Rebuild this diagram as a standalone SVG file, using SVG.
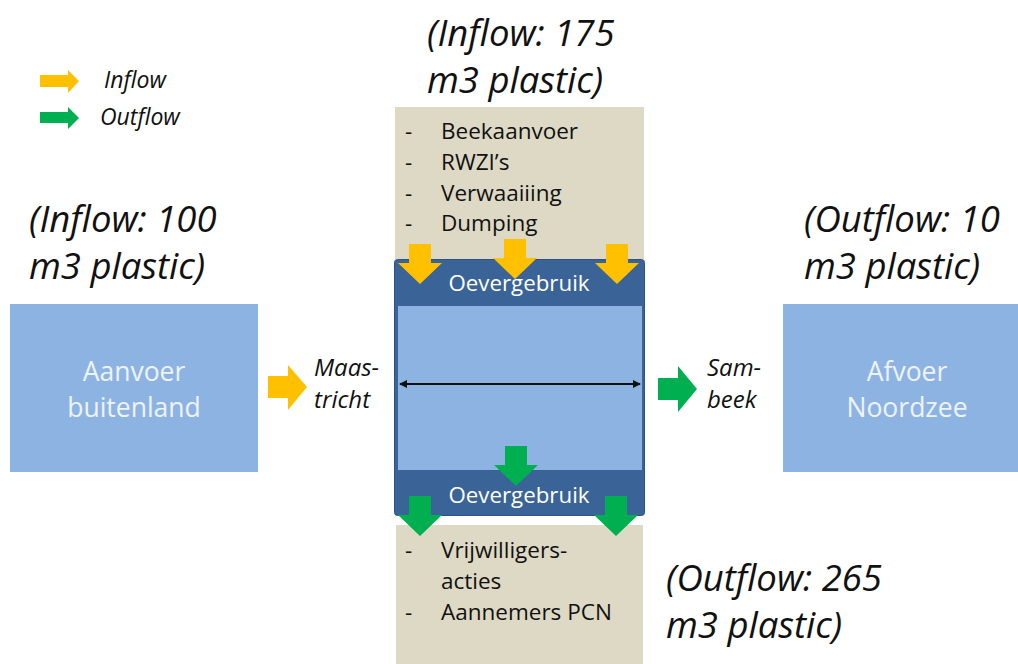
<svg xmlns="http://www.w3.org/2000/svg" width="1018" height="664" viewBox="0 0 1018 664">
<style>
text{font-family:"Open Sans","Liberation Sans",sans-serif}
.it{font-style:italic;fill:#111}
.big{font-size:36.5px}
.lg{font-size:23px}
.mt{font-size:24px}
.lst{font-size:22.5px;fill:#111}
.wt{fill:#fff;font-size:22.3px;text-anchor:middle}
.box{fill:#8DB3E2}
.bl{fill:#EEF3FA;font-size:26.5px;text-anchor:middle}
.beige{fill:#DDD9C4}
.y{fill:#FFC000}
.g{fill:#00B050}
</style>
<defs>
<marker id="ah" markerWidth="8" markerHeight="8" refX="7" refY="4" orient="auto-start-reverse" markerUnits="userSpaceOnUse"><path d="M0,0 L8,4 L0,8 z" fill="#111"/></marker>
<path id="down" d="M-11,0 H11 V19 H22 L0,40 L-22,19 H-11 Z"/>
</defs>
<rect width="1018" height="664" fill="#fff"/>

<g id="legend">
<path class="y" d="M40,75 H68 V70 L79,81 L68,93 V87 H40 Z"/>
<text class="it lg" x="104" y="88">Inflow</text>
<path class="g" d="M40,112 H68 V107 L79,118 L68,129 V123 H40 Z"/>
<text class="it lg" x="100" y="125">Outflow</text>
</g>

<g id="label-inflow-175">
<text class="it big" x="427" y="46">(Inflow: 175</text>
<text class="it big" x="427" y="93">m3 plastic)</text>
</g>
<g id="label-inflow-100">
<text class="it big" x="29" y="232">(Inflow: 100</text>
<text class="it big" x="29" y="279">m3 plastic)</text>
</g>
<g id="label-outflow-10">
<text class="it big" x="804" y="232">(Outflow: 10</text>
<text class="it big" x="804" y="279">m3 plastic)</text>
</g>
<g id="label-outflow-265">
<text class="it big" x="666" y="591">(Outflow: 265</text>
<text class="it big" x="666" y="638">m3 plastic)</text>
</g>

<g id="sources-top">
<rect class="beige" x="395" y="107" width="249" height="152"/>
<text class="lst" x="405" y="139">-</text><text class="lst" x="441" y="139">Beekaanvoer</text>
<text class="lst" x="405" y="170">-</text><text class="lst" x="441" y="170">RWZI’s</text>
<text class="lst" x="405" y="201">-</text><text class="lst" x="441" y="201">Verwaaiiing</text>
<text class="lst" x="405" y="231">-</text><text class="lst" x="441" y="231">Dumping</text>
</g>

<g id="sinks-bottom">
<rect class="beige" x="396" y="525" width="247" height="139"/>
<text class="lst" x="405" y="558">-</text><text class="lst" x="441" y="558">Vrijwilligers-</text>
<text class="lst" x="441" y="589">acties</text>
<text class="lst" x="405" y="620">-</text><text class="lst" x="441" y="620">Aannemers PCN</text>
</g>

<g id="river">
<rect x="394.5" y="259.5" width="250" height="256" rx="3" fill="#3A6497" stroke="#2D5283" stroke-width="1"/>
<rect x="398" y="306" width="244" height="164" fill="#8DB3E2"/>
<text class="wt" x="519" y="291">Oevergebruik</text>
<text class="wt" x="519" y="503">Oevergebruik</text>
</g>

<g id="aanvoer-buitenland">
<rect class="box" x="10" y="304" width="248" height="168"/>
<text class="bl" x="134" y="381">Aanvoer</text>
<text class="bl" x="134" y="417">buitenland</text>
</g>

<g id="afvoer-noordzee">
<rect class="box" x="783" y="304" width="235" height="168"/>
<text class="bl" x="907" y="381">Afvoer</text>
<text class="bl" x="907" y="417">Noordzee</text>
</g>

<g id="connectors">
<line x1="400" y1="384" x2="640" y2="384" stroke="#111" stroke-width="2" marker-start="url(#ah)" marker-end="url(#ah)"/>
<use href="#down" class="y" x="420" y="244"/>
<use href="#down" class="y" x="515" y="239"/>
<use href="#down" class="y" x="617" y="244"/>
<use href="#down" class="g" x="516" y="446"/>
<use href="#down" class="g" x="420" y="496"/>
<use href="#down" class="g" x="616" y="496"/>
<path class="y" d="M268,376 H288 V365 L307,387 L288,410 V398 H268 Z"/>
<path class="g" d="M658,378 H678 V366 L697,389 L678,412 V400 H658 Z"/>
<text class="it mt" x="314" y="376">Maas-</text>
<text class="it mt" x="314" y="408">tricht</text>
<text class="it mt" x="707" y="376">Sam-</text>
<text class="it mt" x="707" y="408">beek</text>
</g>
</svg>
